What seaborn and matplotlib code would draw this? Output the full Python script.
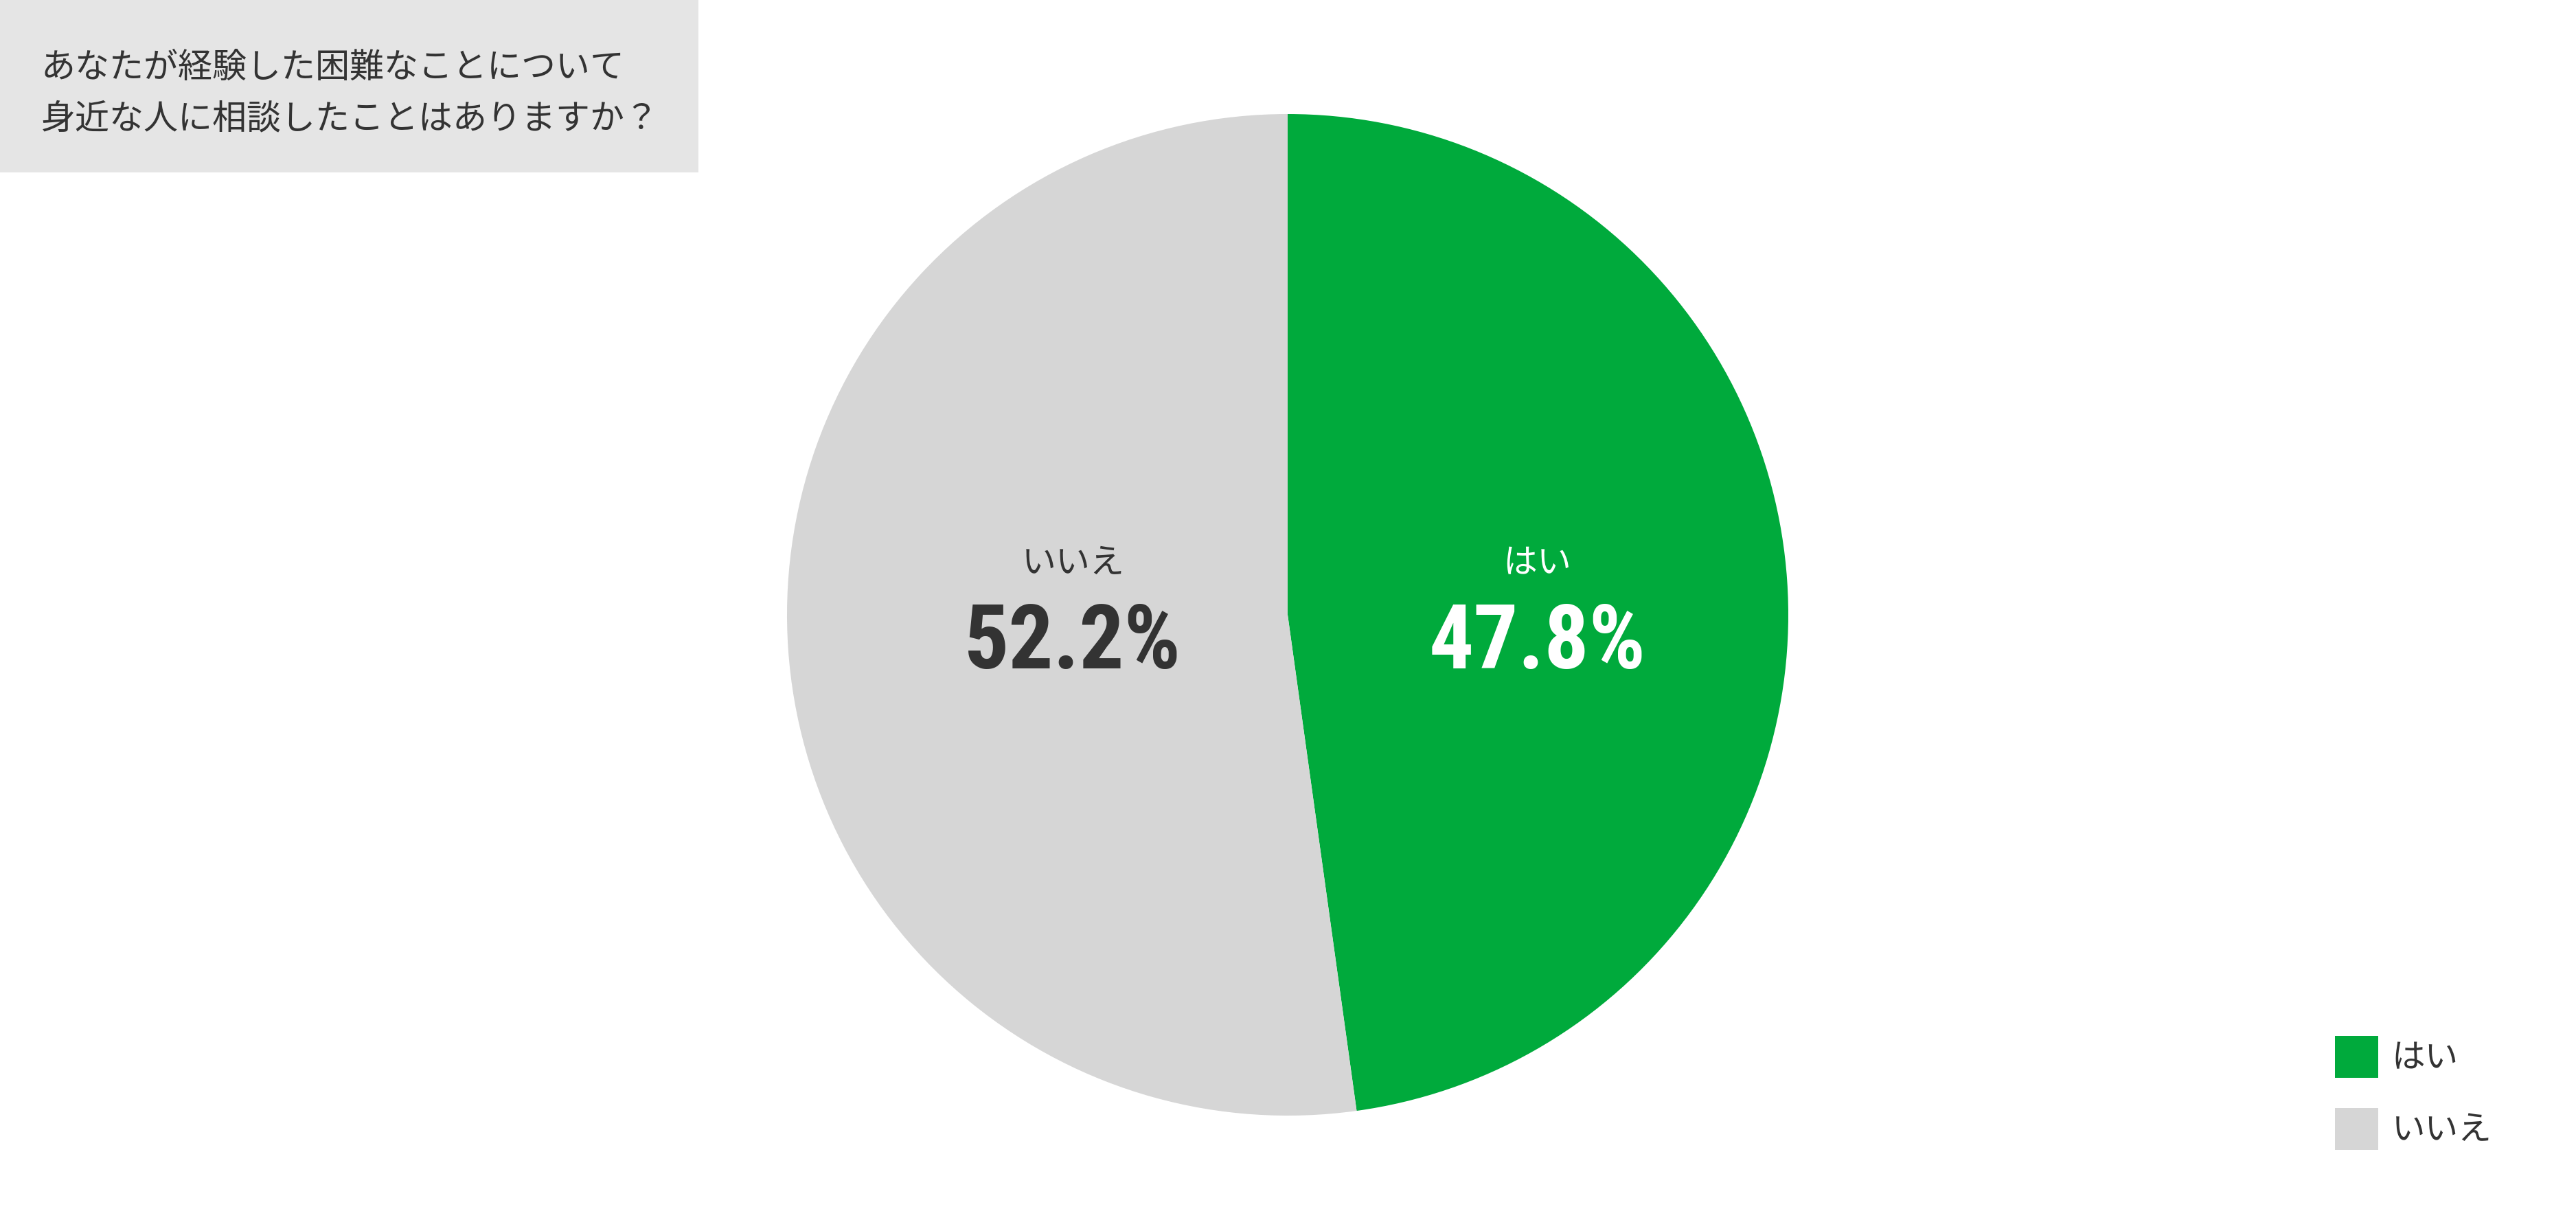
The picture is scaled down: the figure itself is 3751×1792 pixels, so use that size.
import numpy as np
import matplotlib
matplotlib.use("Agg")
import matplotlib.pyplot as plt
import seaborn as sns
from matplotlib.patches import Rectangle, Patch

# ---- data ----
categories = ["はい", "いいえ"]
values = [47.8, 52.2]
colors = ["#00AA3C", "#D6D6D6"]
label_colors = ["#FFFFFF", "#333333"]
title_lines = ["あなたが経験した困難なことについて", "身近な人に相談したことはありますか？"]

sns.set_theme(style="white")
plt.rcParams['font.family'] = ['Noto Sans CJK JP', 'DejaVu Sans']

W, H = 3751, 1792
DPI = 100
fig = plt.figure(figsize=(W / DPI, H / DPI), dpi=DPI)
fig.patch.set_facecolor("white")

# title box
fig.patches.append(Rectangle((0, 1 - 251 / H), 1017 / W, 251 / H, transform=fig.transFigure,
                             facecolor="#E5E5E5", edgecolor="none", zorder=0))
title_y = [99, 173]
for line, y in zip(title_lines, title_y):
    fig.text(60 / W, 1 - y / H, line, fontsize=36, color="#333333", ha="left", va="center")

# pie
cx, cy, R = 1875, 895, 729
ax = fig.add_axes([(cx - R) / W, (H - cy - R) / H, 2 * R / W, 2 * R / H])
wedges, _ = ax.pie(values, colors=colors, startangle=90, counterclock=False,
                   wedgeprops=dict(linewidth=0))
ax.set_xlim(-1, 1)
ax.set_ylim(-1, 1)
ax.set_axis_off()

label_r = [0.50, 0.43]
pct_font = ['Roboto Condensed', 'Liberation Sans Narrow', 'DejaVu Sans']
for w, cat, val, lc, r in zip(wedges, categories, values, label_colors, label_r):
    mid = np.deg2rad((w.theta1 + w.theta2) / 2)
    x = r * np.cos(mid)
    ax.annotate(cat, (x, 0), xytext=(0, 54), textcoords="offset points",
                ha="center", va="center", fontsize=36, color=lc)
    ax.annotate(f"{val:.1f}%", (x, 0), xytext=(0, -56), textcoords="offset points",
                ha="center", va="baseline", fontsize=93, color=lc,
                fontweight="bold", fontstretch="condensed", family=pct_font)

# legend
handles = [Patch(facecolor=c, edgecolor="none", label=l) for c, l in zip(colors, categories)]
leg = fig.legend(handles=handles, loc="upper left",
                 bbox_to_anchor=(3400 / W, 1 - 1508 / H),
                 frameon=False, fontsize=35, handlelength=1.3, handleheight=1.55,
                 handletextpad=0.4, labelspacing=0.9, borderaxespad=0, borderpad=0)
for t in leg.get_texts():
    t.set_color("#333333")

fig.savefig("out.png", dpi=DPI)
